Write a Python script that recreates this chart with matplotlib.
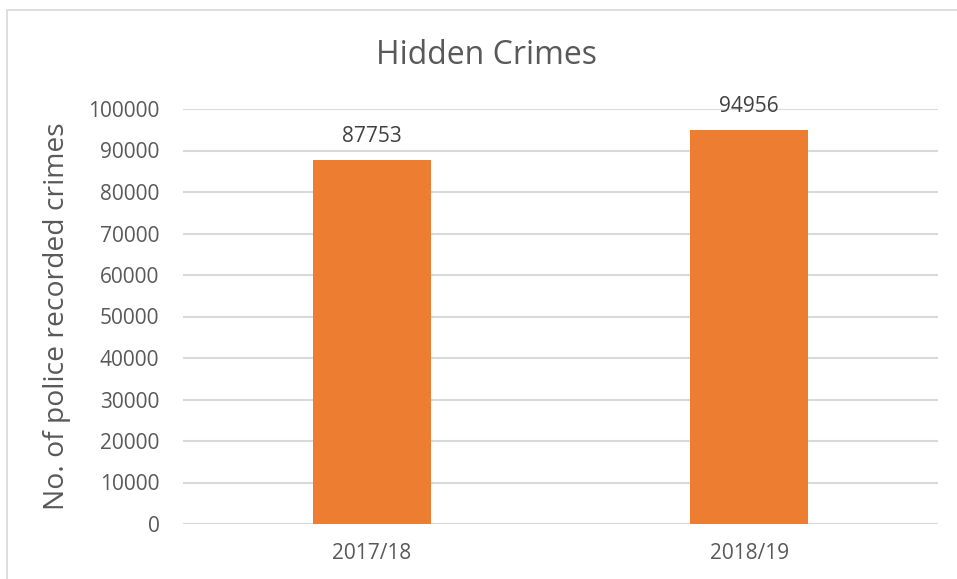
import matplotlib
matplotlib.use("Agg")
import matplotlib.pyplot as plt
from matplotlib.patches import Rectangle

categories = ["2017/18", "2018/19"]
values = [87753, 94956]
yticks = [0, 10000, 20000, 30000, 40000, 50000, 60000, 70000, 80000, 90000, 100000]

plt.rcParams["font.family"] = ["Open Sans", "DejaVu Sans"]

fig = plt.figure(figsize=(9.57, 5.79), dpi=100)
fig.patch.set_facecolor("white")

# light chart-area frame
fig.patches.append(Rectangle((7 / 957, -0.05), 1.2, 1 - 10 / 579 + 0.05,
                             transform=fig.transFigure, fill=False,
                             edgecolor="#D9D9D9", linewidth=1.2))

ax = fig.add_axes([183 / 957, 1 - 524 / 579, (938 - 183) / 957, (524 - 109) / 579])

x = list(range(len(categories)))
bars = ax.bar(x, values, width=0.313, color="#ED7D31", zorder=3)

ax.set_xlim(-0.5, len(categories) - 0.5)
ax.set_ylim(0, 100000)
ax.set_yticks(yticks)
ax.set_yticklabels([str(v) for v in yticks])
ax.set_xticks(x)
ax.set_xticklabels(categories)

ax.yaxis.grid(True, color="#D9D9D9", linewidth=1.5, zorder=0)
ax.set_axisbelow(True)
for side in ["top", "right", "left", "bottom"]:
    ax.spines[side].set_visible(False)
ax.axhline(0, color="#D9D9D9", linewidth=1.5, zorder=1)

ax.tick_params(axis="both", length=0, labelsize=15, labelcolor="#595959")
ax.tick_params(axis="y", pad=17)
ax.tick_params(axis="x", pad=14)

for xi, v in zip(x, values):
    ax.annotate(str(v), (xi, v), xytext=(0, 9), textcoords="offset points",
                ha="center", va="bottom", fontsize=15, color="#404040")

ax.set_ylabel("No. of police recorded crimes", fontsize=20.3, color="#595959", labelpad=12)
fig.text(487 / 957, 1 - 55 / 579, "Hidden Crimes", ha="center", va="center",
         fontsize=23, color="#595959")

fig.savefig("out.png", dpi=100)
